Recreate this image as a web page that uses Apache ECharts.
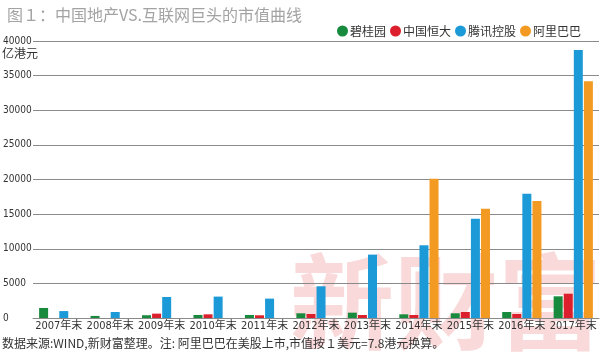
<!DOCTYPE html>
<html>
<head>
<meta charset="utf-8">
<script src="https://cdn.jsdelivr.net/npm/echarts@6/dist/echarts.min.js"></script>
<style>
    html, body { margin: 0; padding: 0; background: #fff; }
    #chart-market-value { width: 600px; height: 352px; }
</style>
</head>
<body>
<div id="chart-market-value"></div>
<script>
// số liệu (亿港元)
let years = ["2007年末", "2008年末", "2009年末", "2010年末", "2011年末", "2012年末",
    "2013年末", "2014年末", "2015年末", "2016年末", "2017年末"];
let seriesNames = ["碧桂园", "中国恒大", "腾讯控股", "阿里巴巴"];
let countryGarden = [1450, 300, 400, 440, 440, 680, 770, 530, 680, 870, 3130];
let evergrande = [null, null, 630, 530, 390, 580, 430, 430, 870, 580, 3510];
let tencent = [1000, 870, 3030, 3090, 2800, 4580, 9150, 10500, 14340, 17950, 38700];
let alibaba = [null, null, null, null, null, null, null, 20100, 15790, 16900, 34200];
let yTicks = [0, 5000, 10000, 15000, 20000, 25000, 30000, 35000, 40000];
let colors = ["#178a3d", "#db1f2c", "#1c9ad8", "#f39a22"];

let fontNarrow = '"Liberation Sans Narrow", "DejaVu Sans Condensed", "Noto Sans CJK SC", sans-serif';
let myChart = echarts.init(document.getElementById("chart-market-value"));

let option = {
    animation: false,
    color: colors,
    title: {
        text: "图１：中国地产VS.互联网巨头的市值曲线",
        left: 2,
        top: 2,
        textStyle: {
            fontFamily: '"Noto Sans CJK SC", sans-serif',
            fontWeight: "normal",
            fontSize: 16,
            color: "#a3a3a3",
        },
    },
    legend: {
        right: 14,
        top: 20,
        icon: "circle",
        itemWidth: 11,
        itemHeight: 11,
        itemGap: 4,
        textStyle: {
            fontFamily: '"Noto Sans CJK SC", sans-serif',
            fontSize: 12,
            color: "#333",
            padding: [0, 0, 0, -3],
        },
        data: seriesNames,
    },
    graphic: [
        {
            type: "text",
            left: 290,
            top: 250,
            z: -1,
            style: {
                text: "新财富",
                fontFamily: '"Noto Sans CJK SC", serif',
                fontWeight: "bold",
                fontSize: 104,
                fill: "rgba(236, 140, 140, 0.33)",
            },
        },
        {
            type: "text",
            left: 2,
            top: 47,
            style: {
                text: "亿港元",
                fontFamily: '"Noto Sans CJK SC", sans-serif',
                fontSize: 12,
                fill: "#333",
            },
        },
        {
            type: "text",
            left: 2,
            top: 337,
            style: {
                text: "数据来源:WIND,新财富整理。注: 阿里巴巴在美股上市,市值按１美元=7.8港元换算。",
                fontFamily: '"Noto Sans CJK SC", sans-serif',
                fontSize: 12,
                fill: "#333",
            },
        },
    ],
    grid: {
        left: 32,
        right: 1,
        top: 41,
        bottom: 34,
        containLabel: false,
    },
    xAxis: {
        type: "category",
        data: years,
        axisLine: { lineStyle: { color: "#8a8a8a", width: 1 } },
        axisTick: { show: false },
        axisLabel: {
            interval: 0,
            margin: 3,
            fontFamily: fontNarrow,
            fontSize: 11,
            color: "#333",
        },
    },
    yAxis: {
        type: "value",
        min: 0,
        max: 40000,
        interval: 5000,
        axisLine: { show: false },
        axisTick: { show: false },
        splitLine: { lineStyle: { color: "#8a8a8a", width: 1 } },
        axisLabel: {
            align: "left",
            margin: 30,
            fontFamily: fontNarrow,
            fontSize: 10,
            color: "#333",
            formatter: function (v) {
                return yTicks.indexOf(v) >= 0 ? String(v) : "";
            },
        },
    },
    series: [
        { name: seriesNames[0], type: "bar", data: countryGarden, barWidth: 9, barGap: "12%" },
        { name: seriesNames[1], type: "bar", data: evergrande, barWidth: 9, barGap: "12%" },
        { name: seriesNames[2], type: "bar", data: tencent, barWidth: 9, barGap: "12%" },
        { name: seriesNames[3], type: "bar", data: alibaba, barWidth: 9, barGap: "12%" },
    ],
};
option && myChart.setOption(option);
</script>
</body>
</html>
